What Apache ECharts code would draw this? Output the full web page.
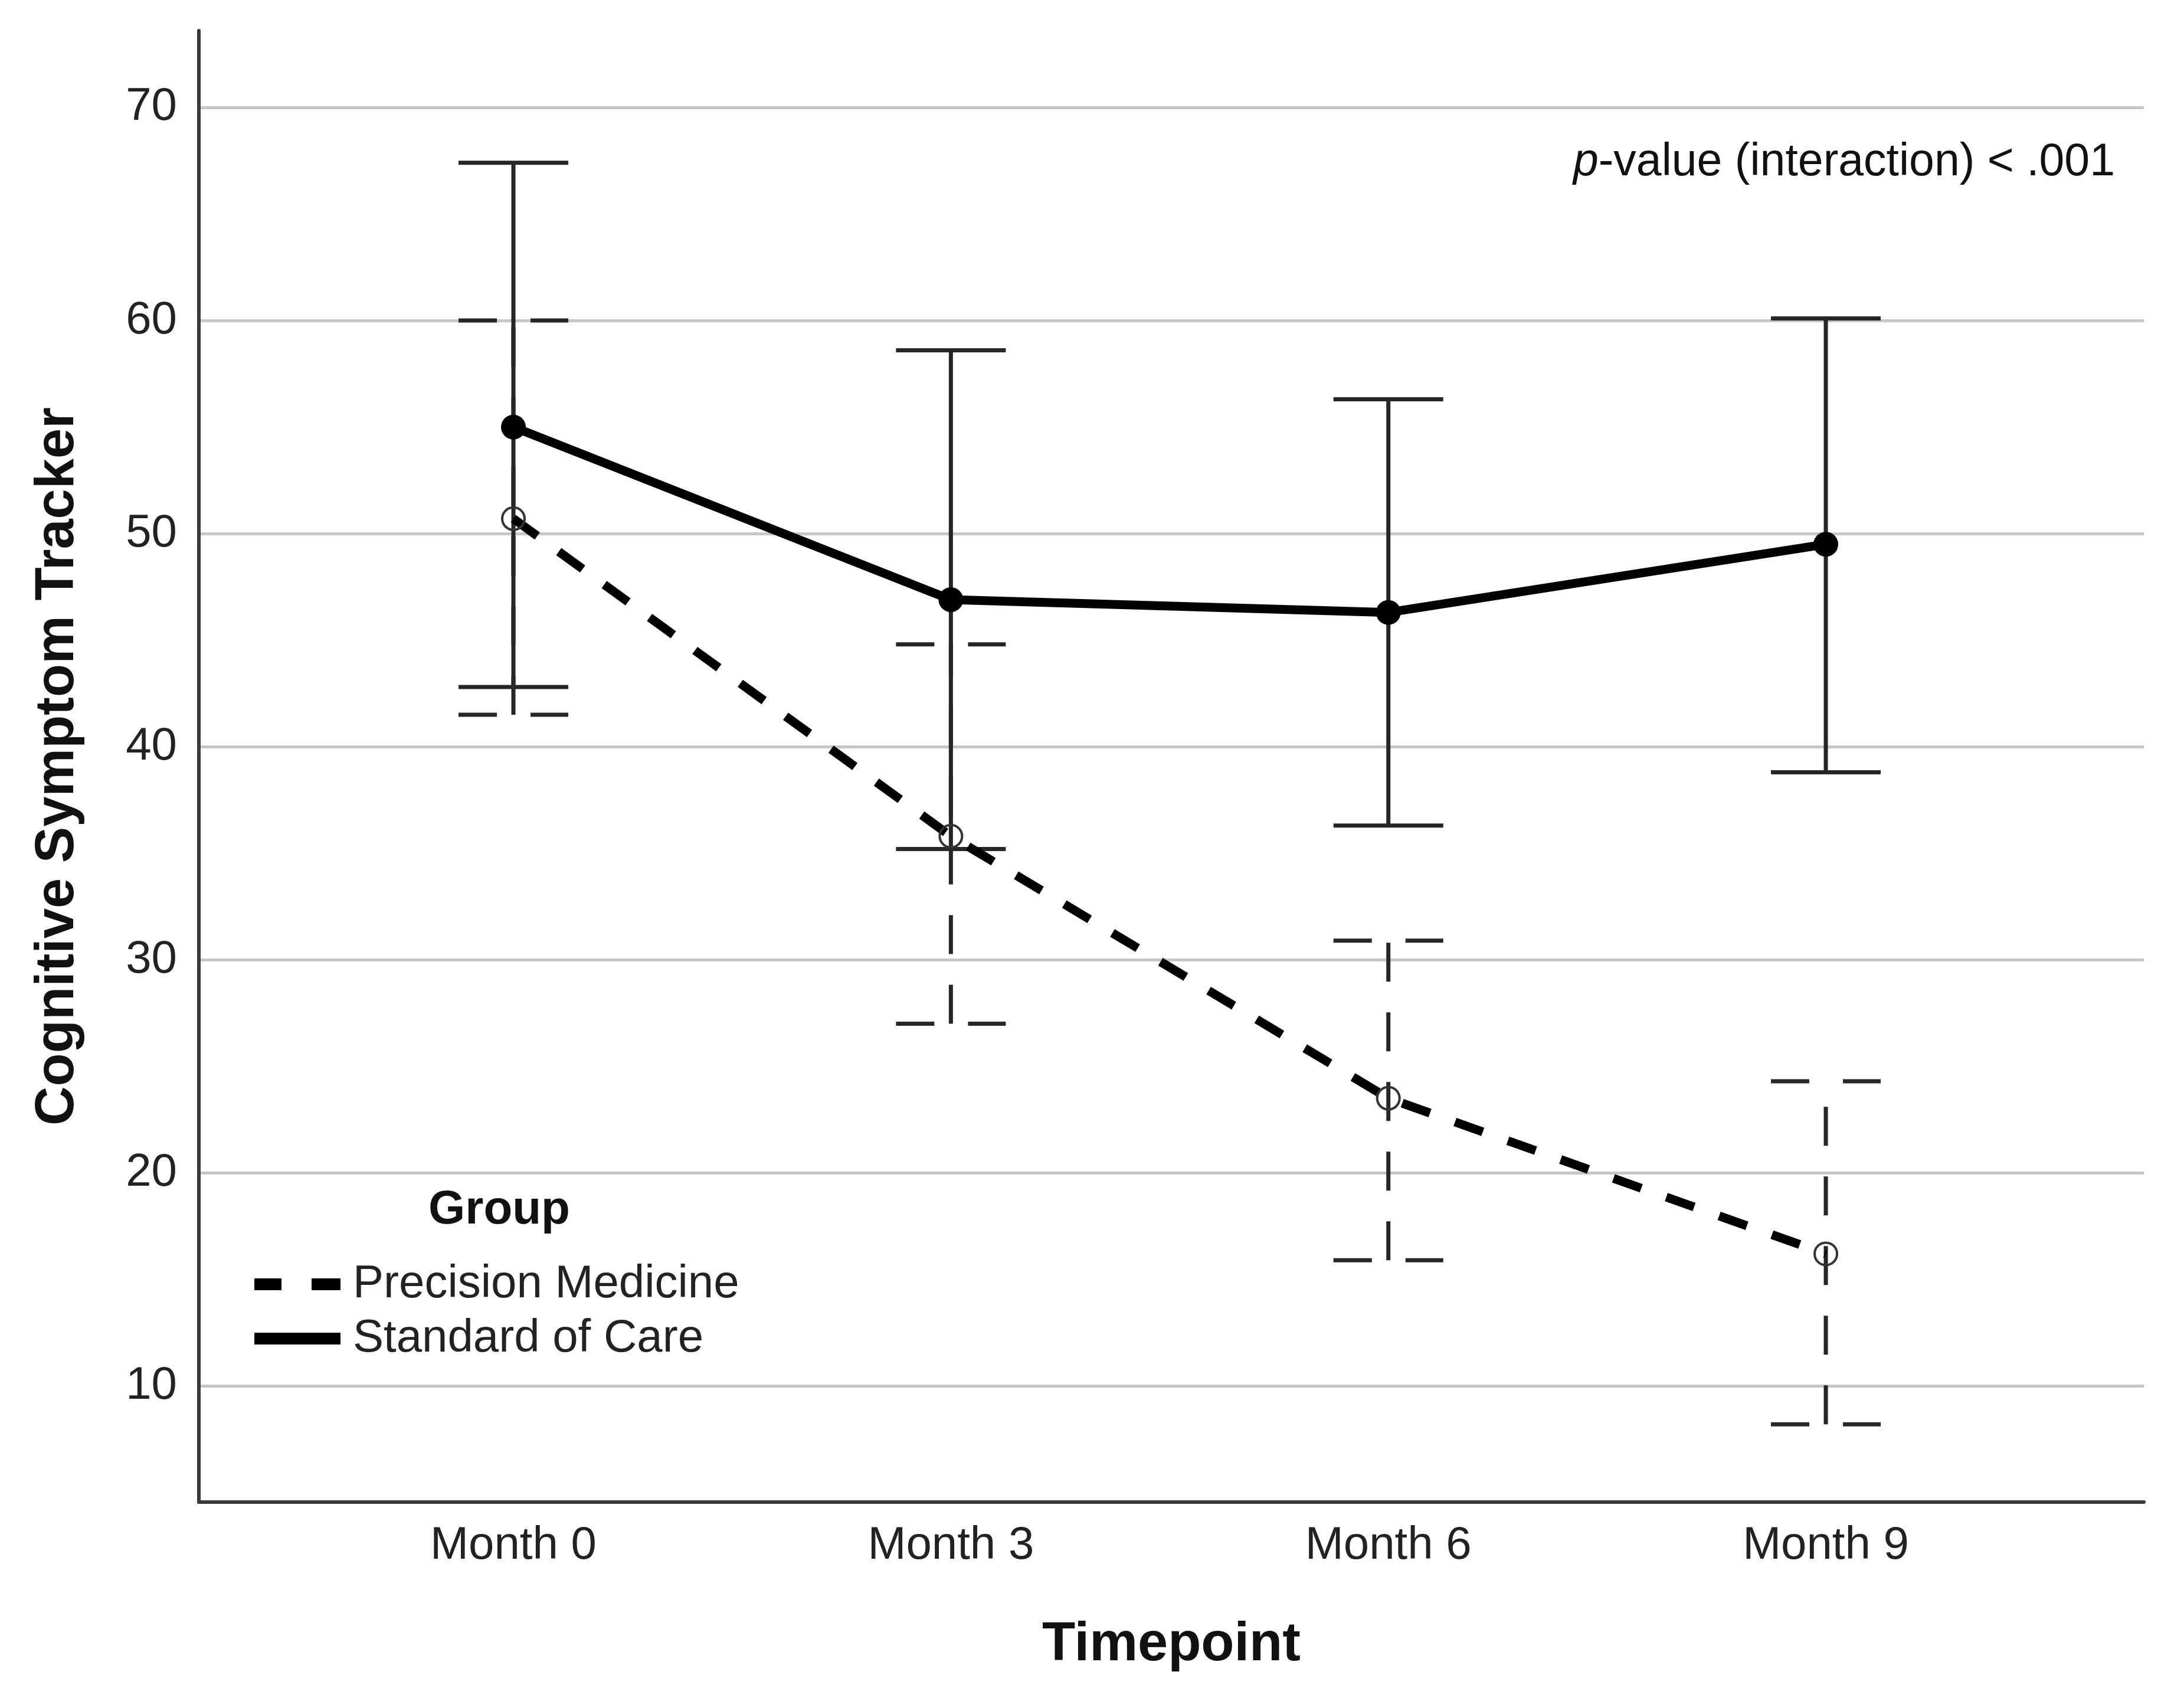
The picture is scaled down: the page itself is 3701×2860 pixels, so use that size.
<!DOCTYPE html>
<html>
<head>
<meta charset="utf-8">
<script src="https://cdn.jsdelivr.net/npm/echarts@6/dist/echarts.min.js"></script>
<style>
html,body{margin:0;padding:0;background:#fff;}
#chart{width:3701px;height:2860px;}
</style>
</head>
<body>
<div id="chart"></div>
<script>
// ---- data ----
const months = ['Month 0', 'Month 3', 'Month 6', 'Month 9'];
const groups = ['Precision Medicine', 'Standard of Care'];
const pmMean = [50.7, 35.8, 23.5, 16.2];
const pmLow  = [41.5, 27.0, 15.9, 8.2];
const pmHigh = [60.0, 44.8, 30.9, 24.3];
const socMean = [55.0, 46.9, 46.3, 49.5];
const socLow  = [42.8, 35.2, 36.3, 38.8];
const socHigh = [67.4, 58.6, 56.3, 60.1];
const yTicks = [10, 20, 30, 40, 50, 60, 70];

const FONT = '"Liberation Sans", Arial, sans-serif';

const chart = echarts.init(document.getElementById('chart'));

function errRender(dashed) {
  return function (params, api) {
    const x = api.value(0), lo = api.value(1), hi = api.value(2);
    const pLo = api.coord([x, lo]);
    const pHi = api.coord([x, hi]);
    const hw = 93;
    const vStyle = {stroke: '#262626', lineWidth: 7, lineCap: 'butt', fill: null};
    const cStyle = {stroke: '#262626', lineWidth: 7, lineCap: 'butt', fill: null};
    if (dashed) { vStyle.lineDash = [66, 52]; cStyle.lineDash = [65, 57]; }
    return {
      type: 'group',
      children: [
        {type: 'line', shape: {x1: pLo[0], y1: pLo[1], x2: pHi[0], y2: pHi[1]}, style: vStyle},
        {type: 'line', shape: {x1: pHi[0] - hw, y1: pHi[1], x2: pHi[0] + hw, y2: pHi[1]}, style: cStyle},
        {type: 'line', shape: {x1: pLo[0] - hw, y1: pLo[1], x2: pLo[0] + hw, y2: pLo[1]}, style: cStyle}
      ]
    };
  };
}

const option = {
  backgroundColor: '#ffffff',
  animation: false,
  grid: {left: 337, right: 68, top: 52, bottom: 315, containLabel: false},
  xAxis: {
    type: 'value',
    min: -0.719,
    max: 3.727,
    name: 'Timepoint',
    nameLocation: 'middle',
    nameGap: 197,
    nameTextStyle: {fontFamily: FONT, fontSize: 92, fontWeight: 'bold', color: '#111'},
    axisLine: {show: true, onZero: false, lineStyle: {color: '#3a3a3a', width: 6}},
    axisTick: {show: false},
    splitLine: {show: false},
    axisLabel: {
      margin: 35,
      fontFamily: FONT, fontSize: 78, color: '#222',
      showMinLabel: false, showMaxLabel: false,
      formatter: function (v) {
        return Number.isInteger(v) && months[v] !== undefined ? months[v] : '';
      }
    }
  },
  yAxis: {
    type: 'value',
    min: 4.55,
    max: 73.6,
    name: 'Cognitive Symptom Tracker',
    nameLocation: 'middle',
    nameGap: 192,
    nameTextStyle: {fontFamily: FONT, fontSize: 92, fontWeight: 'bold', color: '#111'},
    axisLine: {show: true, onZero: false, lineStyle: {color: '#3a3a3a', width: 6}},
    axisTick: {show: false},
    splitLine: {show: true, showMinLine: false, showMaxLine: false, lineStyle: {color: '#c6c6c6', width: 5}},
    axisLabel: {
      margin: 37,
      fontFamily: FONT, fontSize: 78, color: '#222',
      showMinLabel: false, showMaxLabel: false,
      formatter: function (v) { return yTicks.indexOf(v) >= 0 ? String(v) : ''; }
    }
  },
  legend: {
    orient: 'vertical',
    left: 431,
    top: 2136,
    padding: 0,
    itemGap: 12,
    itemWidth: 146,
    itemHeight: 22,
    selectedMode: false,
    itemStyle: {color: '#000', borderWidth: 0},
    textStyle: {fontFamily: FONT, fontSize: 78, color: '#222', lineHeight: 80, padding: [0, 0, 0, 16]},
    data: [
      {name: groups[0], icon: 'path://M0 0H46V20H0Z M97 0H146V20H97Z'},
      {name: groups[1], icon: 'path://M0 0H146V20H0Z'}
    ]
  },
  graphic: [
    {
      type: 'text', x: 846, y: 2051,
      style: {text: 'Group', align: 'center', verticalAlign: 'middle',
        font: 'bold 80px ' + FONT, fill: '#111'}
    },
    {
      type: 'text', x: 3584, y: 276,
      style: {text: '{i|p}-value (interaction) < .001', align: 'right', verticalAlign: 'middle',
        font: '77px ' + FONT, fill: '#111',
        rich: {i: {fontStyle: 'italic', fontSize: 77, fontFamily: FONT, fill: '#111'}}}
    }
  ],
  series: [
    {
      name: groups[0] + ' CI',
      type: 'custom',
      renderItem: errRender(true),
      data: pmMean.map((m, i) => [i, pmLow[i], pmHigh[i]]),
      z: 2
    },
    {
      name: groups[1] + ' CI',
      type: 'custom',
      renderItem: errRender(false),
      data: socMean.map((m, i) => [i, socLow[i], socHigh[i]]),
      z: 2
    },
    {
      name: groups[0],
      type: 'line',
      data: pmMean.map((v, i) => [i, v]),
      symbol: 'circle',
      symbolSize: 38,
      lineStyle: {color: '#000', width: 15, type: [50, 45], cap: 'butt'},
      itemStyle: {color: 'rgba(255,255,255,0)', borderColor: '#333', borderWidth: 4},
      z: 3
    },
    {
      name: groups[1],
      type: 'line',
      data: socMean.map((v, i) => [i, v]),
      symbol: 'circle',
      symbolSize: 42,
      lineStyle: {color: '#000', width: 15},
      itemStyle: {color: '#000', borderWidth: 0},
      z: 4
    }
  ]
};

chart.setOption(option);
</script>
</body>
</html>
